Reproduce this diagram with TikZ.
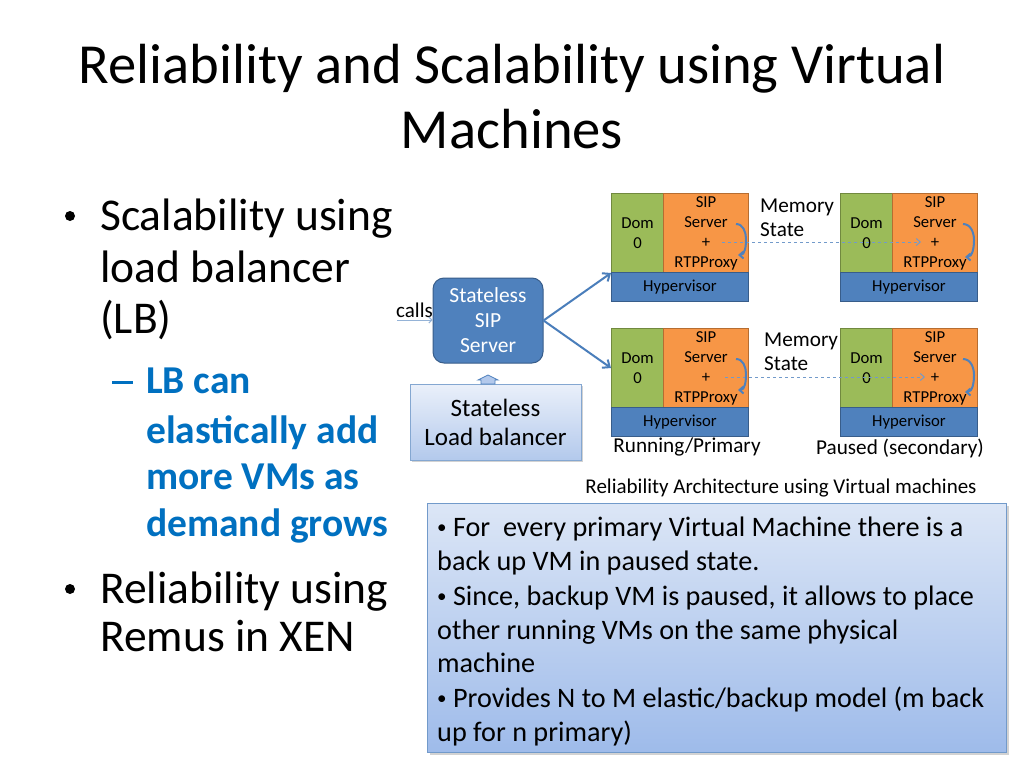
\documentclass[tikz,border=0pt]{standalone}
\usepackage{fontspec}
\setmainfont{Carlito}
\usetikzlibrary{arrows.meta,shadows}
\definecolor{vgreen}{HTML}{9BBB59}
\definecolor{vgreenb}{HTML}{71893F}
\definecolor{vorange}{HTML}{F79646}
\definecolor{vorangeb}{HTML}{B66D31}
\definecolor{vblue}{HTML}{4F81BD}
\definecolor{vblueb}{HTML}{385D8A}
\definecolor{lbtop}{HTML}{EAF0FA}
\definecolor{lbbot}{HTML}{B3C9EC}
\definecolor{boxtop}{HTML}{DCE6F6}
\definecolor{boxbot}{HTML}{9EBBEA}
\definecolor{subblue}{HTML}{0070C0}
\definecolor{arrowblue}{HTML}{4A7EBB}
\newcommand{\fs}[2]{\fontsize{#1}{#2}\selectfont}
\newcommand{\smbul}{\raisebox{2.4pt}{\fs{19}{19}•}}
\tikzset{
  ttl/.style={font=\fs{56.6}{65}, inner sep=0pt},
  lt/.style={font=\fs{45.5}{52}, inner sep=0pt, anchor=base west},
  st/.style={font=\bfseries\fs{39.5}{47}, text=subblue, inner sep=0pt, anchor=base west},
  bt/.style={font=\fs{28.2}{34}, inner sep=0pt, anchor=base west},
  dom/.style={draw=vgreenb, fill=vgreen, line width=1pt, minimum width=52pt, minimum height=79pt, anchor=north west, inner sep=0pt, align=center, font=\fs{16.7}{20}},
  sip/.style={draw=vorangeb, fill=vorange, line width=1pt, minimum width=85pt, minimum height=79pt, anchor=north west, inner sep=0pt, align=center, font=\fs{16.7}{20}},
  hyp/.style={draw=vblueb, fill=vblue, line width=1pt, minimum width=137pt, minimum height=29pt, anchor=north west, inner sep=0pt, font=\fs{16.7}{18}},
  lbl/.style={inner sep=0pt, font=\fs{21.2}{24}},
  curv/.style={draw=vblue, line width=2pt, -{Straight Barb[length=4pt,width=7pt]}},
  mem/.style={draw=vblue!80, line width=1pt, dashed, -{Straight Barb[length=4pt,width=7pt]}},
  fan/.style={draw=arrowblue, line width=2pt, -{Straight Barb[length=6pt,width=10pt]}}
}
\begin{document}
\begin{tikzpicture}[x=1pt,y=-1pt]
\path[use as bounding box, fill=white] (0,0) rectangle (1024,768);

% title
\node[ttl, align=center] (title) at (512,97) {Reliability and Scalability using Virtual\\Machines};

% left bullets
\fill (70,216) circle (5) coordinate (b1);
\fill (70,589) circle (5) coordinate (b2);
\node[lt] (l1) at (100,230) {Scalability using};
\node[lt] (l2) at (100,282) {load balancer};
\node[lt] (l3) at (100,333) {(LB)};
\fill[subblue] (112,381) rectangle (133,384) coordinate (d1);
\node[st] (s1) at (146,393) {LB can};
\node[st] (s2) at (146,443) {elastically add};
\node[st] (s3) at (146,489) {more VMs as};
\node[st] (s4) at (146,536) {demand grows};
\node[lt] (l4) at (100,603) {Reliability using};
\node[lt] (l5) at (100,651) {Remus in XEN};

% stateless SIP server
\node[draw=vblueb, fill=vblue, line width=1pt, rounded corners=11pt, minimum width=110pt, minimum height=85pt, inner sep=0pt, align=center, text=white, font=\fs{21.5}{25}] (ss) at (488,320.5) {Stateless\\SIP\\Server};
\node[inner sep=0pt, font=\fs{21}{22}, anchor=south east] (calls) at (433,318) {calls};
\coordinate (callsin) at (397,320);
\draw[draw=vblue!60, line width=1pt, -{Straight Barb[length=3pt,width=6pt]}] (callsin) -- (ss.west |- callsin);

% load balancer
\node[draw=vblue!70, line width=1pt, top color=lbtop, bottom color=lbbot, minimum width=171pt, minimum height=76pt, inner sep=0pt, align=center, font=\fs{25}{29}, drop shadow={shadow xshift=2pt, shadow yshift=-2pt, opacity=0.35}] (lb) at (495.5,422) {Stateless\\Load balancer};
\filldraw[draw=vblue, fill=lbbot, line width=0.8pt] (481,384) -- (481,380) -- (478,380) -- (488,375) -- (498,380) -- (495,380) -- (495,384) -- cycle;

% VM top-left
\node[dom] (d0a) at (611,193) {Dom\\0};
\node[sip] (sa) at (663,193) {SIP\\Server\\+\\RTPProxy};
\node[hyp] (ha) at (611,272) {Hypervisor};
% VM top-right
\node[dom] (d0b) at (840,193) {Dom\\0};
\node[sip] (sb) at (892,193) {SIP\\Server\\+\\RTPProxy};
\node[hyp] (hb) at (840,272) {Hypervisor};
% VM bottom-left
\node[dom] (d0c) at (611,328) {Dom\\0};
\node[sip] (sc) at (663,328) {SIP\\Server\\+\\RTPProxy};
\node[hyp] (hc) at (611,407) {Hypervisor};
% VM bottom-right
\node[dom] (d0d) at (840,328) {Dom\\0};
\node[sip] (sd) at (892,328) {SIP\\Server\\+\\RTPProxy};
\node[hyp] (hd) at (840,407) {Hypervisor};

% fan arrows
\draw[fan] (ss.east) -- (d0a.south west);
\draw[fan] (ss.east) -- (d0c.west);

% memory state labels
\node[lbl, align=left, anchor=west] (ms1) at (760,218) {Memory\\State};
\node[lbl, align=left, anchor=west] (ms2) at (764,352) {Memory\\State};

% dashed memory arrows
\coordinate (ma1) at (722,242);
\coordinate (mb1) at (921,242);
\coordinate (ma2) at (725,377);
\coordinate (mb2) at (925,377);
\draw[mem] (ma1) -- (mb1);
\draw[mem] (ma2) -- (mb2);

% curved arrows
\draw[curv] (736,224) to[out=0,in=90] (746,239) to[out=-90,in=0] (738,255);
\draw[curv] (963,224) to[out=0,in=90] (974,240) to[out=-90,in=0] (965,257);
\draw[curv] (736,359) to[out=0,in=90] (746,374) to[out=-90,in=0] (738,390);
\draw[curv] (963,359) to[out=0,in=90] (974,375) to[out=-90,in=0] (965,392);

% captions
\node[lbl] (run) at (687,447) {Running/Primary};
\node[lbl] (pau) at (900,448) {Paused (secondary)};
\node[inner sep=0pt, font=\fs{21}{24}] (cap) at (781,488) {Reliability Architecture using Virtual machines};

% info box
\node[draw=vblue!80, line width=1pt, top color=boxtop, bottom color=boxbot, minimum width=579pt, minimum height=249pt, anchor=north west, inner sep=0pt, drop shadow={shadow xshift=2pt, shadow yshift=-2pt, opacity=0.35}] (box) at (427,503) {};
\node[bt] (t1) at (437,536) {\smbul\ For\ \ every primary Virtual Machine there is a};
\node[bt] (t2) at (437,570) {back up VM in paused state.};
\node[bt] (t3) at (437,605) {\smbul\ Since, backup VM is paused, it allows to place};
\node[bt] (t4) at (437,639) {other running VMs on the same physical};
\node[bt] (t5) at (437,672) {machine};
\node[bt] (t6) at (437,707) {\smbul\ Provides N to M elastic/backup model (m back};
\node[bt] (t7) at (437,741) {up for n primary)};
\end{tikzpicture}
\end{document}
